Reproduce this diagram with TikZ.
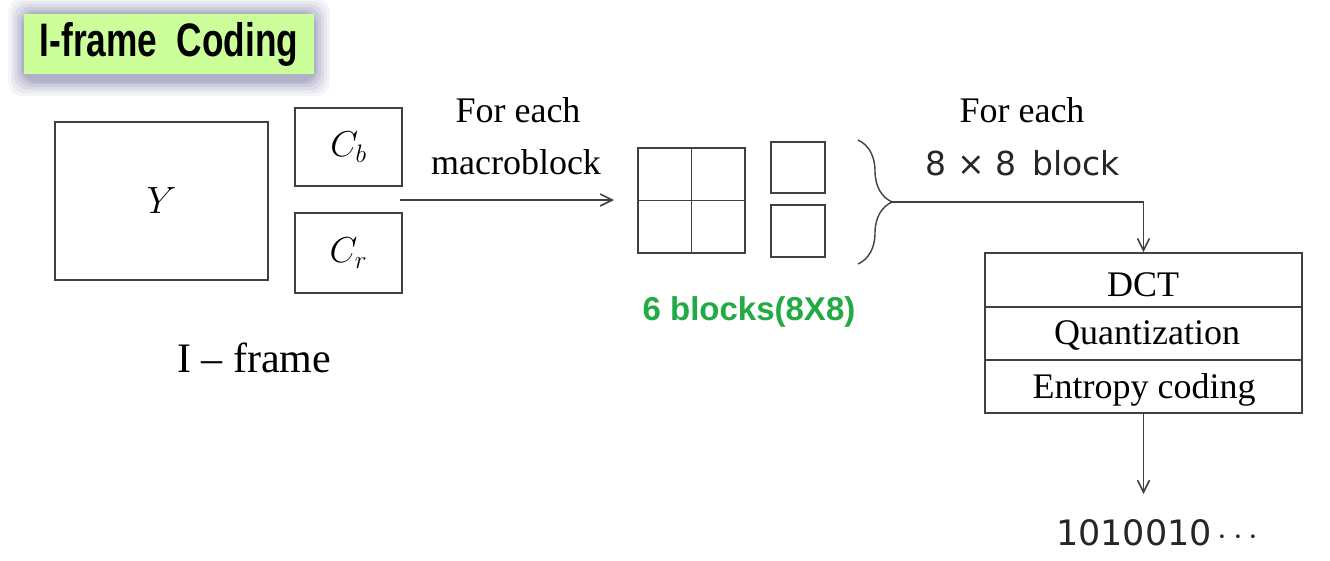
\RequirePackage{fix-cm}
\documentclass[tikz,border=0pt]{standalone}
\usepackage{fontspec}
\setmainfont{Liberation Serif}
\newfontfamily\titlefont{Liberation Sans}
\newfontfamily\dvfont{DejaVu Sans}
\usetikzlibrary{arrows.meta,decorations.pathreplacing}
\definecolor{titlegreen}{HTML}{CCFF99}
\definecolor{glow}{HTML}{9A9ABA}
\definecolor{blkgreen}{HTML}{22AA44}
\definecolor{ln}{HTML}{404040}
\begin{document}
\begin{tikzpicture}[x=1pt,y=-1pt,
  box/.style={draw=ln,line width=1.6pt,inner sep=0pt},
  lbl/.style={font=\fontsize{36}{40}\selectfont,inner sep=0pt},
  sflbl/.style={font=\dvfont\fontsize{33}{36}\selectfont,text=black!85,inner sep=0pt},
  arr/.style={draw=ln,line width=1.6pt,-{Straight Barb[length=12pt,width=12pt]}},
  conn/.style={draw=ln,line width=1.6pt}]
\useasboundingbox (0,0) rectangle (1330,560);
% title glow
\foreach \d/\o in {16/0.10,13/0.13,10/0.16,7/0.22,4/0.30,2/0.40}{
  \fill[glow,opacity=\o,rounded corners=14pt] (24-\d,14-\d) rectangle (314+\d,74+\d+6);
}
\node[fill=titlegreen,minimum width=290pt,minimum height=60pt,inner sep=0pt] (title) at (169,44)
  {\titlefont\bfseries\fontsize{47}{50}\selectfont\scalebox{0.75}[1]{I-frame\ \ Coding}};
% I-frame
\node[box,minimum width=213pt,minimum height=158pt] (Y) at (161.5,201) {};
\node[lbl,font=\fontsize{38}{42}\selectfont] (Ylbl) at (Y.center) {$Y$};
\node[box,minimum width=107pt,minimum height=78pt,font=\fontsize{36}{40}\selectfont] (Cb) at (348.5,147) {$C_b$};
\node[box,minimum width=107pt,minimum height=80pt,font=\fontsize{36}{40}\selectfont] (Cr) at (348.5,253) {$C_r$};
\node[lbl,font=\fontsize{42}{46}\selectfont] (iframe) at (254,358) {I -- frame};
% macroblock arrow
\coordinate (mbstart) at (400,200);
\coordinate (mbend) at (614,200);
\draw[arr] (mbstart) -- (mbend);
\node[lbl] (fe1) at (518,110) {For each};
\node[lbl] (mb) at (516,162) {macroblock};
% 2x2 grid
\node[box,minimum width=107pt,minimum height=105pt] (grid) at (691.5,200.5) {};
\draw[conn] (grid.north) -- (grid.south);
\draw[conn] (grid.west) -- (grid.east);
\node[box,minimum width=54pt,minimum height=51pt] (sq1) at (798,167.5) {};
\node[box,minimum width=54pt,minimum height=52pt] (sq2) at (798,231) {};
\node[font=\titlefont\bfseries\fontsize{33}{36}\selectfont,text=blkgreen,inner sep=0pt] (six) at (749,312) {6 blocks(8X8)};
% brace
\coordinate (btop) at (858,140);
\coordinate (bbot) at (858,264);
\draw[ln,line width=1.4pt,decorate,decoration={brace,amplitude=34pt}] (btop) -- (bbot);
\coordinate (tip) at (892,202);
% stack
\node[box,minimum width=317pt,minimum height=54pt] (dct) at (1143.5,280) {};
\node[box,minimum width=317pt,minimum height=53pt] (quant) at (1143.5,333.5) {};
\node[box,minimum width=317pt,minimum height=53pt] (ent) at (1143.5,386.5) {};
\node[lbl] at (1143,285) {DCT};
\node[lbl] at (1147,335) {Quantization};
\node[lbl] at (1144,390) {Entropy coding};
\draw[arr] (tip) -| (dct.north);
\node[lbl] (fe2) at (1022,110) {For each};
\node[sflbl] (blk) at (1023,163) {8 × 8\, block};
% output
\coordinate (outend) at (1143.5,494);
\draw[arr] (ent.south) -- (outend);
\node[sflbl,font=\dvfont\fontsize{35}{38}\selectfont,anchor=west] (bits) at (1056,533) {1010010\,$\cdots$};
\end{tikzpicture}
\end{document}
